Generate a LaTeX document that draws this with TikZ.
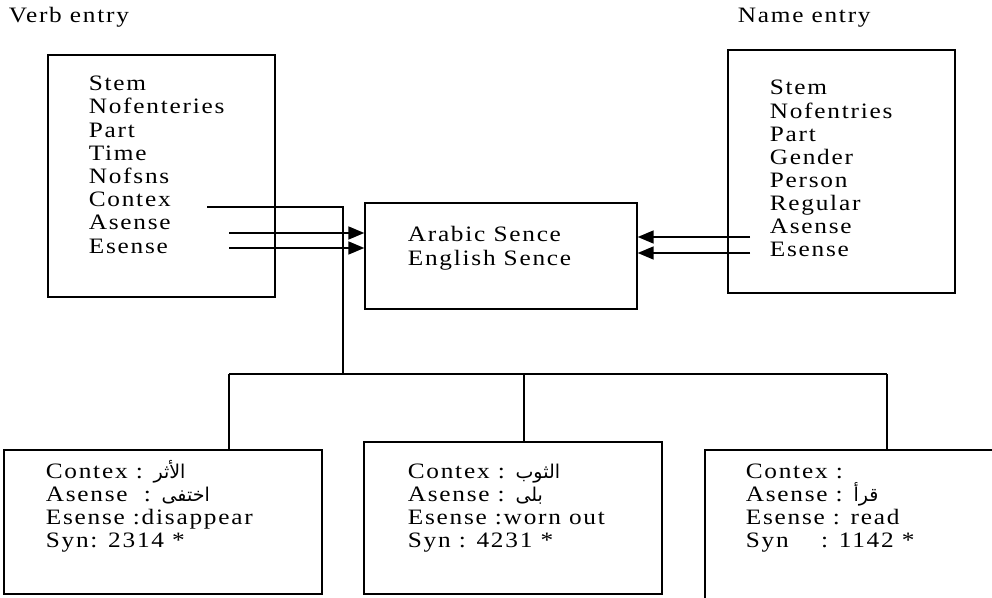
\documentclass[tikz,border=0pt]{standalone}
\usepackage{fontspec}
\setmainfont[FakeStretch=1.15,LetterSpace=8]{Liberation Serif}
\newfontfamily\arabicfont[Script=Arabic]{DejaVu Sans}
\TeXXeTstate=1
\usepackage{tikz}
\usetikzlibrary{arrows}
\newcommand\artext[1]{{\arabicfont\fontsize{9.5}{10}\selectfont\beginR #1\endR}}
\tikzstyle{entrybox}=[rectangle,draw=black,inner sep=0mm]
\tikzstyle{field}=[anchor=base west,inner sep=0mm,font=\fontsize{11}{13}\selectfont]
\tikzstyle{arrow}=[->,>=triangle 45]
\tikzset{every picture/.style={
    line width=0.8pt
  }
}
\begin{document}
\begin{tikzpicture}[x=0.5pt,y=-0.5pt]
        \useasboundingbox (0,0) rectangle (992,598);
        \clip (0,0) rectangle (992,598);
        % entry boxes
        \node[field] at (8,23) (vtitle) {Verb entry};
        \node[field] at (737,23) (ntitle) {Name entry};
        \node[entrybox,minimum width=113.5pt,minimum height=121pt] at (161.5,176) (verb) {};
        \node[entrybox,minimum width=113.5pt,minimum height=121.5pt] at (841.5,171.5) (name) {};
        \node[entrybox,minimum width=136pt,minimum height=53pt] at (501,256) (sense) {};
        \foreach \t [count=\i] in {Stem,Nofenteries,Part,Time,Nofsns,Contex,Asense,Esense}
          \node[field] at (88,{90.7+(\i-1)*23.2}) (v\i) {\t};
        \foreach \t [count=\i] in {Stem,Nofentries,Part,Gender,Person,Regular,Asense,Esense}
          \node[field] at (769,{95+(\i-1)*23.1}) (n\i) {\t};
        \node[field] at (407,242) (s1) {Arabic Sence};
        \node[field] at (407,266) (s2) {English Sence};
        % context boxes
        \node[entrybox,minimum width=159pt,minimum height=72pt] at (163,522) (ctx1) {};
        \node[entrybox,minimum width=149pt,minimum height=76pt] at (513,518) (ctx2) {};
        \node[entrybox,minimum width=147.5pt,minimum height=80pt] at (852.5,530) (ctx3) {};
        \node[field] at (45,479) (a1) {Contex : \artext{الأثر}};
        \node[field] at (45,502) (a2) {Asense\ \ : \artext{اختفى}};
        \node[field] at (45,525) (a3) {Esense :disappear};
        \node[field] at (45,548) (a4) {Syn: 2314 *};
        \node[field] at (407,479) (b1) {Contex : \artext{الثوب}};
        \node[field] at (407,502) (b2) {Asense : \artext{بلى}};
        \node[field] at (407,525) (b3) {Esense :worn out};
        \node[field] at (407,548) (b4) {Syn : 4231 *};
        \node[field] at (745,479) (c1) {Contex :};
        \node[field] at (745,502) (c2) {Asense : \artext{قرأ}};
        \node[field] at (745,525) (c3) {Esense : read};
        \node[field] at (745,548) (c4) {Syn\ \ \ \ : 1142 *};
        % connectors
        \coordinate (vc) at (207,207);
        \coordinate (hub) at (343,374);
        \coordinate (d1) at (229,374);
        \coordinate (d2) at (524,374);
        \coordinate (d3) at (887,374);
        \coordinate (va) at (229,233);
        \coordinate (ve) at (229,248);
        \coordinate (na) at (750,237);
        \coordinate (ne) at (750,253);
        \draw (vc) -| (hub);
        \draw (d1) -- (d3);
        \draw (d1) -- (d1 |- ctx1.north);
        \draw (d2) -- (d2 |- ctx2.north);
        \draw (d3) -- (d3 |- ctx3.north);
        \draw[arrow] (va) -- (va -| sense.west);
        \draw[arrow] (ve) -- (ve -| sense.west);
        \draw[arrow] (na) -- (na -| sense.east);
        \draw[arrow] (ne) -- (ne -| sense.east);
      \end{tikzpicture}
\end{document}
